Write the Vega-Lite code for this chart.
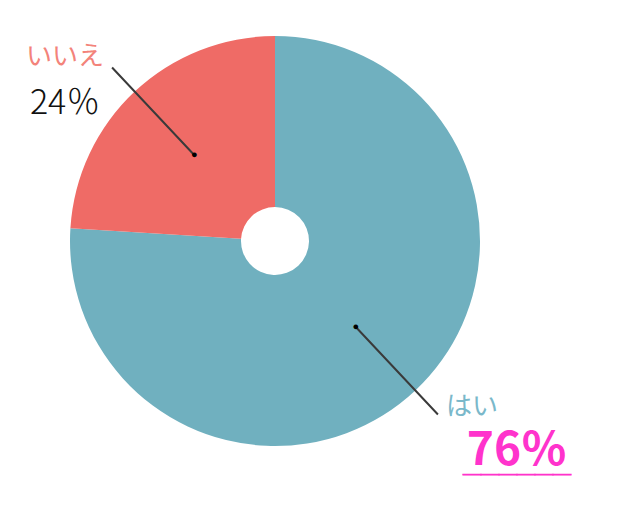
{
  "$schema": "https://vega.github.io/schema/vega-lite/v6.json",
  "width": 550,
  "height": 482,
  "autosize": "none",
  "padding": {"left": 0, "top": 0, "right": 90, "bottom": 33},
  "background": "white",
  "data": {
    "values": [
      {"回答": "はい", "割合": 76, "順": 1},
      {"回答": "いいえ", "割合": 24, "順": 2}
    ]
  },
  "transform": [
    {"stack": "割合", "groupby": [], "sort": [{"field": "順"}], "as": ["s0", "s1"]},
    {"calculate": "(datum.s0 + datum.s1) / 2", "as": "mid"}
  ],
  "layer": [
    {
      "mark": {"type": "arc", "outerRadius": 205, "innerRadius": 34},
      "encoding": {
        "theta": {"field": "s0", "type": "quantitative", "scale": {"domain": [0, 100]}},
        "theta2": {"field": "s1"},
        "color": {
          "field": "回答",
          "type": "nominal",
          "scale": {"domain": ["はい", "いいえ"], "range": ["#70b0bf", "#ef6b66"]},
          "legend": null
        }
      }
    },
    {
      "mark": {"type": "arc", "outerRadius": 238, "innerRadius": 118, "fill": null, "stroke": "#3a3a3a", "strokeWidth": 2},
      "encoding": {
        "theta": {"field": "mid", "type": "quantitative"},
        "theta2": {"field": "mid"}
      }
    },
    {
      "mark": {"type": "text", "text": "●", "radius": 118, "fontSize": 11, "color": "#000000", "align": "center", "baseline": "middle"},
      "encoding": {
        "theta": {"field": "mid", "type": "quantitative"}
      }
    },
    {
      "transform": [{"filter": "datum['回答'] == 'いいえ'"}],
      "layer": [
        {
          "mark": {"type": "text", "radius": 238, "dx": -47, "dy": -11, "fontSize": 26, "font": "Noto Sans CJK JP", "color": "#f3837a", "align": "center", "baseline": "middle"},
          "encoding": {
            "theta": {"field": "mid", "type": "quantitative"},
            "text": {"field": "回答"}
          }
        },
        {
          "mark": {"type": "text", "radius": 238, "dx": -47, "dy": 36, "fontSize": 34, "font": "Noto Sans CJK JP", "fontWeight": 300, "color": "#111111", "align": "center", "baseline": "middle", "text": {"expr": "datum['割合'] + '％'"}},
          "encoding": {
            "theta": {"field": "mid", "type": "quantitative"}
          }
        }
      ]
    },
    {
      "transform": [{"filter": "datum['回答'] == 'はい'"}],
      "layer": [
        {
          "mark": {"type": "text", "radius": 238, "dx": 34, "dy": -7, "fontSize": 26, "font": "Noto Sans CJK JP", "color": "#7ab8ca", "align": "center", "baseline": "middle"},
          "encoding": {
            "theta": {"field": "mid", "type": "quantitative"},
            "text": {"field": "回答"}
          }
        },
        {
          "mark": {"type": "text", "radius": 238, "dx": 79, "dy": 37, "fontSize": 46, "fontWeight": "bold", "font": "Noto Sans CJK JP", "color": "#ff33cc", "align": "center", "baseline": "middle", "text": {"expr": "datum['割合'] + '％'"}},
          "encoding": {
            "theta": {"field": "mid", "type": "quantitative"}
          }
        },
        {
          "mark": {"type": "text", "radius": 238, "dx": 79, "dy": 54, "fontSize": 18, "font": "Noto Sans CJK JP", "color": "#ff33cc", "stroke": "#ff33cc", "strokeWidth": 1.2, "align": "center", "baseline": "middle", "text": "＿＿＿＿＿＿"},
          "encoding": {
            "theta": {"field": "mid", "type": "quantitative"}
          }
        }
      ]
    }
  ]
}
